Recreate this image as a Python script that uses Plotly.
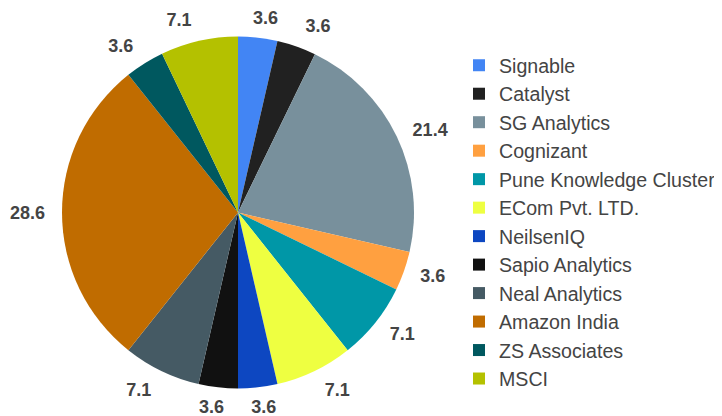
import plotly.graph_objects as go

labels = ["Signable", "Catalyst", "SG Analytics", "Cognizant", "Pune Knowledge Cluster",
          "ECom Pvt. LTD.", "NeilsenIQ", "Sapio Analytics", "Neal Analytics",
          "Amazon India", "ZS Associates", "MSCI"]
values = [3.6, 3.6, 21.4, 3.6, 7.1, 7.1, 3.6, 3.6, 7.1, 28.6, 3.6, 7.1]
colors = ["#4285F4", "#212121", "#78909C", "#FFA040", "#0097A7", "#EEFF41",
          "#0D47C1", "#111111", "#455A64", "#C06C00", "#00585F", "#B4C100"]

# the page body has an 8px margin, so the figure is 8px smaller each way
W, H = 714, 408
cx, cy = 230, 204.5
r_pie = 176

def dom(r):
    return dict(x=[(cx - r) / W, (cx + r) / W],
                y=[(H - cy - r) / H, (H - cy + r) / H])

fig = go.Figure()

def label_pie(indices, r, rotation=0):
    # transparent pie that only carries outside value labels for the given slices
    fig.add_trace(go.Pie(
        labels=labels, values=values, sort=False, direction="clockwise", rotation=rotation,
        domain=dom(r),
        marker=dict(colors=["rgba(0,0,0,0)"] * len(values), line=dict(width=0)),
        textposition=["outside" if i in indices else "none" for i in range(len(values))],
        texttemplate="<b>%{value}</b>",
        outsidetextfont=dict(family="Liberation Sans", size=18, color="#444444"),
        showlegend=False, hoverinfo="skip"))

label_pie({2, 4, 8, 10}, 188)
label_pie({1, 3, 5, 9, 11}, 188)
# labels of slices near the vertical axis sit closer to the ray through the slice
label_pie({0}, 185, -3.4)
label_pie({6}, 185, 3.9)
label_pie({7}, 185, -3.7)

fig.add_trace(go.Pie(
    labels=labels, values=values, sort=False, direction="clockwise", rotation=0,
    domain=dom(r_pie), marker=dict(colors=colors, line=dict(width=0)),
    textinfo="none", showlegend=True))

fig.update_layout(
    width=W, height=H, margin=dict(l=0, r=0, t=0, b=0, autoexpand=False),
    paper_bgcolor="white", plot_bgcolor="white",
    font=dict(family="Liberation Sans", color="#444444"),
    legend=dict(x=451 / W, y=1 - 38 / H, xanchor="left", yanchor="top",
                font=dict(family="Liberation Sans", size=19.6, color="#444444"),
                traceorder="normal", bgcolor="rgba(0,0,0,0)"),
)
fig.write_html("out.html")
